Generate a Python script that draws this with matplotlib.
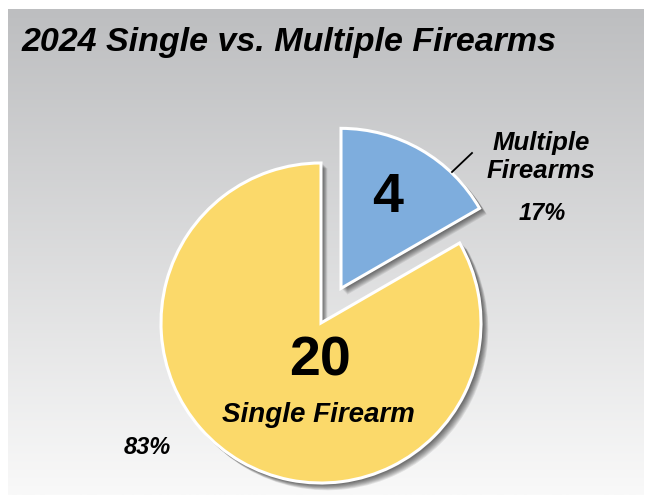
import numpy as np
import matplotlib
matplotlib.use("Agg")
import matplotlib.pyplot as plt

# data
labels = ["Multiple\nFirearms", "Single Firearm"]
counts = [4, 20]
percents = ["17%", "83%"]
colors = ["#7EADDD", "#FBD96A"]
explode = [40, 0]   # pie explode is in data units here

W, H = 645, 495
fig = plt.figure(figsize=(W / 100, H / 100), dpi=100)
ax = fig.add_axes([0, 0, 1, 1])

# gray gradient panel
grad = np.linspace(0, 1, 256)[:, None]
top = np.array([189, 190, 192]) / 255
bot = np.array([249, 249, 249]) / 255
img = top + (bot - top) * grad[:, :, None]
ax.imshow(img, extent=[8, 644, 0, 486], aspect="auto", zorder=0)

cx, cy, r = 321, H - 323, 160

# soft shadow
for k in range(8):
    off = 2 + k
    ax.pie(counts, explode=explode, startangle=90, counterclock=False,
           center=(cx + off * 0.7, cy - off * 0.7), radius=r + 1,
           colors=["#000000"] * 2,
           wedgeprops=dict(alpha=0.085, linewidth=0), frame=True)

wedges, _ = ax.pie(counts, explode=explode, startangle=90, counterclock=False,
                   center=(cx, cy), radius=r, colors=colors,
                   wedgeprops=dict(edgecolor="white", linewidth=2.2), frame=True)
ax.set_xlim(0, W)
ax.set_ylim(0, H)
ax.set_aspect("equal")
ax.axis("off")

font = "Liberation Sans"
ax.text(22, H - 42, "2024 Single vs. Multiple Firearms", fontsize=24.5,
        fontweight="bold", style="italic", family=font, va="center", ha="left")

ax.text(388, H - 198, str(counts[0]), fontsize=40, fontweight="bold",
        family=font, ha="center", va="center")
ax.text(320, H - 362, str(counts[1]), fontsize=40, fontweight="bold",
        family=font, ha="center", va="center")
ax.text(318, H - 415, labels[1], fontsize=20, fontweight="bold", style="italic",
        family=font, ha="center", va="center")

ax.text(541, H - 157, labels[0], fontsize=18.5, fontweight="bold", style="italic",
        family=font, ha="center", va="center", linespacing=1.2)
ax.text(542, H - 213, percents[0], fontsize=17, fontweight="bold", style="italic",
        family=font, ha="center", va="center")
ax.text(147, H - 447, percents[1], fontsize=17, fontweight="bold", style="italic",
        family=font, ha="center", va="center")
ax.plot([452, 472], [H - 172, H - 153], color="black", lw=1.3)

fig.savefig("out.png", dpi=100)
